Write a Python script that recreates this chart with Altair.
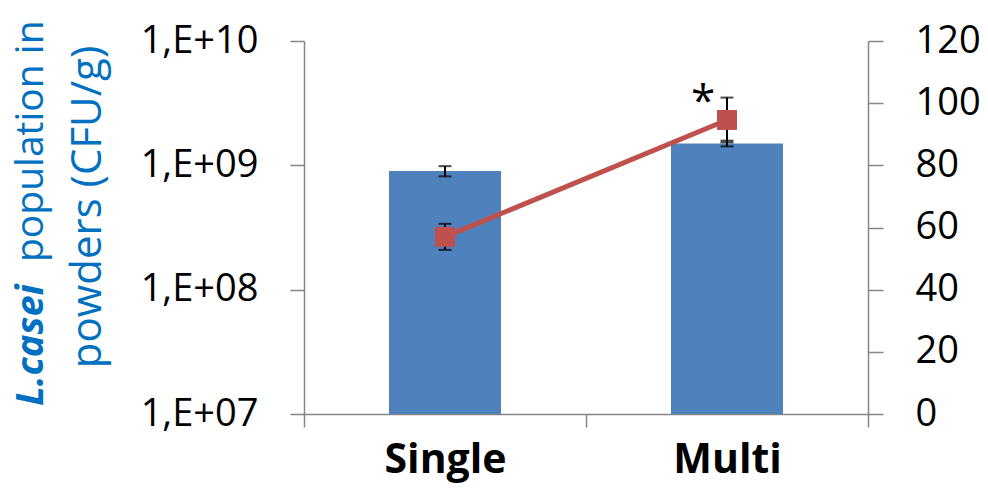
import altair as alt
import pandas as pd

groups = ["Single", "Multi"]
population = [9.0e8, 1.5e9]
population_err = [0.85e8, 0.08e9]
survival = [57.0, 94.6]
survival_err = [4.2, 7.2]
left_ticks = [1e7, 1e8, 1e9, 1e10]
left_labels = ["1,E+07", "1,E+08", "1,E+09", "1,E+10"]
right_ticks = [0, 20, 40, 60, 80, 100, 120]
star_labels = ["", "*"]

df = pd.DataFrame({
    "group": groups,
    "pop": population,
    "pop_lo": [p - e for p, e in zip(population, population_err)],
    "pop_hi": [p + e for p, e in zip(population, population_err)],
    "base": [left_ticks[0]] * len(groups),
    "surv": survival,
    "surv_lo": [s - e for s, e in zip(survival, survival_err)],
    "surv_hi": [s + e for s, e in zip(survival, survival_err)],
    "star": star_labels,
})

FONT = "Open Sans"
AXIS_GRAY = "#868686"
label_expr = " : ".join(f"datum.value == {v!r} ? '{l}'" for v, l in zip(left_ticks, left_labels)) + " : ''"

xenc = alt.X("group:N", sort=groups,
             scale=alt.Scale(domain=groups, paddingInner=0, paddingOuter=0),
             axis=alt.Axis(title=None, labelFont=FONT, labelFontSize=41, labelFontWeight="bold",
                           labelColor="black", labelAngle=0, tickBand="extent", tickSize=13,
                           tickColor=AXIS_GRAY, tickWidth=1.5, domainColor=AXIS_GRAY,
                           domainWidth=1.5, labelPadding=13))
xplain = alt.X("group:N", sort=groups)

yscale_left = alt.Scale(type="log", domain=[left_ticks[0], left_ticks[-1]], nice=False)
yscale_right = alt.Scale(domain=[right_ticks[0], right_ticks[-1]], nice=False, zero=True)

base = alt.Chart(df)

bars = base.mark_bar(color="#4F81BD", size=112).encode(
    x=xenc,
    y=alt.Y("pop:Q", scale=yscale_left,
            axis=alt.Axis(title=None, orient="left", values=left_ticks, labelExpr=label_expr,
                          labelFont=FONT, labelFontSize=38, labelColor="black", tickSize=14,
                          tickColor=AXIS_GRAY, tickWidth=1.5, domainColor=AXIS_GRAY,
                          domainWidth=1.5, labelPadding=32, grid=False)),
    y2="base:Q",
)
bar_err = base.mark_rule(color="black", strokeWidth=2).encode(
    x=xplain, y=alt.Y("pop_lo:Q", scale=yscale_left, axis=None), y2="pop_hi:Q")
bar_cap_lo = base.mark_tick(color="black", thickness=2, size=13).encode(
    x=xplain, y=alt.Y("pop_lo:Q", scale=yscale_left, axis=None))
bar_cap_hi = base.mark_tick(color="black", thickness=2, size=13).encode(
    x=xplain, y=alt.Y("pop_hi:Q", scale=yscale_left, axis=None))

line = base.mark_line(color="#C0504D", strokeWidth=5).encode(
    x=xplain,
    y=alt.Y("surv:Q", scale=yscale_right,
            axis=alt.Axis(orient="right", title=None, values=right_ticks, labelFont=FONT,
                          labelFontSize=38, labelColor="black", tickSize=15, tickColor=AXIS_GRAY,
                          tickWidth=1.5, domainColor=AXIS_GRAY, domainWidth=1.5,
                          labelPadding=32, grid=False)),
)
line_err = base.mark_rule(color="black", strokeWidth=2).encode(
    x=xplain, y=alt.Y("surv_lo:Q", scale=yscale_right, axis=None), y2="surv_hi:Q")
line_cap_lo = base.mark_tick(color="black", thickness=2, size=13).encode(
    x=xplain, y=alt.Y("surv_lo:Q", scale=yscale_right, axis=None))
line_cap_hi = base.mark_tick(color="black", thickness=2, size=13).encode(
    x=xplain, y=alt.Y("surv_hi:Q", scale=yscale_right, axis=None))
points = base.mark_point(shape="square", filled=True, size=400, opacity=1, color="#C0504D").encode(
    x=xplain, y=alt.Y("surv:Q", scale=yscale_right, axis=None))
star = base.mark_text(font=FONT, fontSize=44, color="black", dx=-24, dy=5,
                      align="center", baseline="middle").encode(
    x=xplain, y=alt.Y("surv_hi:Q", scale=yscale_right, axis=None), text="star:N")

title_color = "#0070C0"
t1 = alt.Chart(pd.DataFrame({"t": ["L.casei"]})).mark_text(
    font=FONT, fontSize=38, fontWeight="bold", fontStyle="italic", color=title_color,
    angle=270, align="left", baseline="alphabetic").encode(
    text="t:N", x=alt.value(-261), y=alt.value(365))
t2 = alt.Chart(pd.DataFrame({"t": ["population in"]})).mark_text(
    font=FONT, fontSize=39, color=title_color,
    angle=270, align="left", baseline="alphabetic").encode(
    text="t:N", x=alt.value(-261), y=alt.value(221))
t3 = alt.Chart(pd.DataFrame({"t": ["powders (CFU/g)"]})).mark_text(
    font=FONT, fontSize=42, color=title_color,
    angle=270, align="center", baseline="alphabetic").encode(
    text="t:N", x=alt.value(-203), y=alt.value(166))

chart = alt.layer(
    bars, bar_err, bar_cap_lo, bar_cap_hi,
    line, line_err, line_cap_lo, line_cap_hi, points, star,
    t1, t2, t3,
).resolve_scale(y="independent").properties(
    width=564, height=373,
    autosize=alt.AutoSizeParams(type="none"),
    padding={"left": 296, "top": 33, "right": 112, "bottom": 74},
).configure_view(stroke=None)

chart.save("out.html", embed_options={"renderer": "svg", "actions": False})
